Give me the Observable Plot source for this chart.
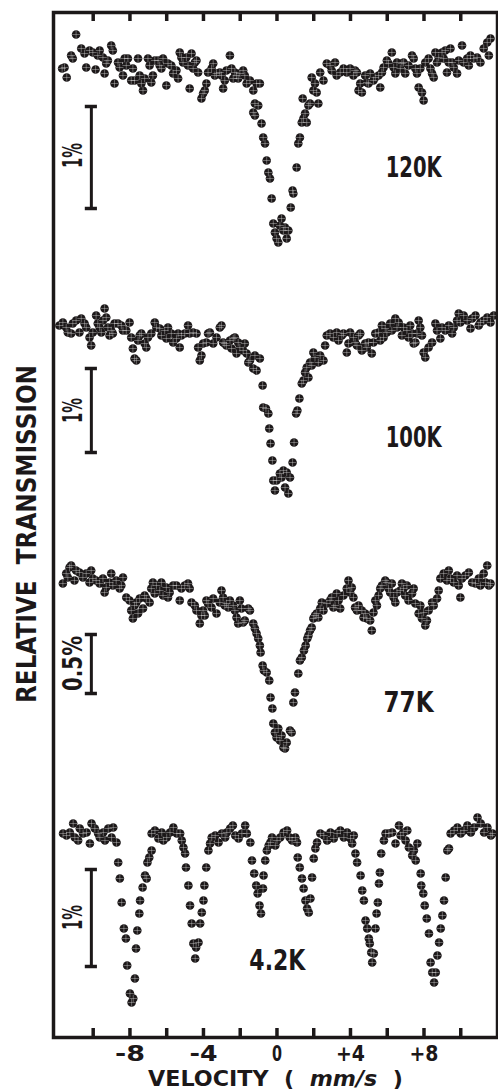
<!DOCTYPE html>
<html><head><meta charset="utf-8">
<script src="https://cdn.jsdelivr.net/npm/d3@7"></script>
<script src="https://cdn.jsdelivr.net/npm/@observablehq/plot@0.6"></script>
<style>
html,body{margin:0;padding:0;background:#fff;}
#chart svg{display:block;}
</style></head><body><div id="chart"></div>
<script>
// ---- DATA: Mossbauer spectra, [velocity (mm/s), absorption depth below band top (chart units)] ----
const temperatures = ["120K", "100K", "77K", "4.2K"];

const spectrum120K = [
[-11.69,0.43],[-11.56,0.42],[-11.44,0.52],[-11.2,0.30],[-11.11,0.33],[-10.93,0.09],[-10.65,0.23],[-10.47,0.28],[-10.38,0.42],[-10.2,0.25],
[-10.02,0.27],[-9.87,0.44],[-9.75,0.30],[-9.65,0.25],[-9.47,0.32],[-9.38,0.48],[-9.29,0.38],[-9.2,0.35],[-9.02,0.20],[-8.93,0.25],
[-8.84,0.58],[-8.65,0.37],[-8.56,0.42],[-8.38,0.50],[-8.29,0.33],[-8.2,0.40],[-8.11,0.33],[-7.93,0.55],[-7.84,0.43],[-7.75,0.55],
[-7.56,0.33],[-7.47,0.50],[-7.38,0.58],[-7.29,0.65],[-7.2,0.53],[-7.02,0.33],[-6.93,0.40],[-6.84,0.57],[-6.75,0.50],[-6.65,0.35],
[-6.47,0.35],[-6.38,0.40],[-6.29,0.43],[-6.2,0.33],[-6.02,0.60],[-5.93,0.38],[-5.75,0.40],[-5.65,0.48],[-5.47,0.45],[-5.38,0.53],
[-5.29,0.27],[-5.2,0.32],[-5.11,0.37],[-4.93,0.32],[-4.84,0.40],[-4.75,0.63],[-4.65,0.28],[-4.56,0.43],[-4.47,0.37],[-4.38,0.35],
[-4.29,0.47],[-4.11,0.73],[-4.02,0.68],[-3.93,0.65],[-3.84,0.58],[-3.75,0.47],[-3.56,0.43],[-3.47,0.38],[-3.38,0.50],[-3.29,0.48],
[-3.11,0.47],[-3.02,0.50],[-2.93,0.63],[-2.84,0.55],[-2.75,0.45],[-2.56,0.30],[-2.47,0.43],[-2.38,0.53],[-2.29,0.47],[-2.2,0.50],
[-2.11,0.53],[-2.02,0.48],[-1.84,0.45],[-1.75,0.50],[-1.65,0.58],[-1.47,0.55],[-1.29,0.65],[-1.11,0.58],[-0.93,0.58],
[-1.2,0.78],[-1.02,0.80],[-1.29,0.87],[-1.2,0.90],[-0.84,0.98],[-0.75,1.12],[-0.65,1.18],[-0.56,1.35],[-0.47,1.47],[-0.38,1.53],
[-0.29,1.73],[-0.2,1.98],[-0.11,2.07],[-0.02,2.13],[0.07,2.17],[0.16,2.0],[0.25,1.93],[0.35,2.05],[0.44,2.02],[0.53,2.13],
[0.62,2.05],[0.75,1.82],[0.85,1.65],[0.89,1.68],[1.07,1.42],[1.16,1.18],[1.25,1.12],[1.35,0.97],[1.44,0.93],[1.53,0.88],
[1.62,0.97],[1.40,0.73],[1.71,0.80],[1.8,0.78],[1.89,0.52],[1.98,0.65],[2.16,0.67],[2.25,0.78],[2.07,0.58],
[2.35,0.47],[2.53,0.55],[2.71,0.38],[2.89,0.40],[2.98,0.45],[3.16,0.37],[3.25,0.50],[3.44,0.47],[3.62,0.43],[3.8,0.47],
[3.98,0.43],[4.16,0.50],[4.25,0.45],[4.35,0.47],[4.44,0.65],[4.53,0.58],[4.62,0.67],[4.8,0.50],[4.89,0.57],[4.98,0.58],
[5.07,0.48],[5.25,0.55],[5.35,0.52],[5.53,0.50],[5.62,0.62],[5.71,0.47],[5.8,0.42],[5.98,0.35],[6.07,0.38],[6.25,0.27],
[6.35,0.42],[6.44,0.48],[6.53,0.37],[6.71,0.43],[6.8,0.38],[6.89,0.37],[6.98,0.48],[7.16,0.40],[7.35,0.30],[7.44,0.33],
[7.53,0.43],[7.62,0.48],[7.71,0.62],[7.8,0.43],[7.89,0.67],[7.98,0.75],[8.07,0.37],[8.25,0.33],[8.35,0.43],[8.44,0.48],
[8.53,0.52],[8.62,0.27],[8.71,0.37],[8.8,0.32],[8.98,0.27],[9.07,0.33],[9.16,0.25],[9.25,0.47],[9.35,0.37],[9.44,0.23],
[9.53,0.37],[9.62,0.42],[9.8,0.48],[9.89,0.35],[10.07,0.20],[10.16,0.37],[10.35,0.33],[10.44,0.40],[10.53,0.30],[10.71,0.33],
[10.89,0.32],[11.07,0.37],[11.25,0.23],[11.44,0.17],[11.53,0.30],[11.62,0.13]
];

const spectrum100K = [
[-11.84,0.25],[-11.65,0.22],[-11.47,0.27],[-11.38,0.32],[-11.2,0.33],[-11.11,0.23],[-10.93,0.20],[-10.75,0.32],[-10.65,0.18],[-10.47,0.23],
[-10.38,0.27],[-10.2,0.37],[-10.11,0.45],[-10.02,0.32],[-9.84,0.15],[-9.75,0.23],[-9.65,0.27],[-9.56,0.32],[-9.47,0.20],[-9.38,0.08],
[-9.29,0.17],[-9.2,0.27],[-9.11,0.35],[-9.02,0.30],[-8.93,0.33],[-8.84,0.23],[-8.65,0.23],[-8.47,0.25],[-8.38,0.30],[-8.2,0.30],
[-8.02,0.22],[-7.93,0.37],[-7.84,0.48],[-7.75,0.58],[-7.65,0.60],[-7.56,0.40],[-7.47,0.35],[-7.38,0.33],[-7.2,0.43],[-7.11,0.47],
[-7.02,0.37],[-6.84,0.33],[-6.65,0.22],[-6.56,0.27],[-6.38,0.28],[-6.29,0.35],[-6.11,0.30],[-6.02,0.38],[-5.93,0.27],[-5.75,0.33],
[-5.65,0.42],[-5.47,0.38],[-5.38,0.33],[-5.29,0.47],[-5.2,0.35],[-5.02,0.33],[-4.84,0.25],[-4.75,0.33],[-4.56,0.32],[-4.38,0.33],
[-4.29,0.47],[-4.2,0.60],[-4.11,0.55],[-4.02,0.43],[-3.84,0.42],[-3.75,0.33],[-3.65,0.32],[-3.47,0.43],[-3.29,0.37],[-3.11,0.27],
[-3.02,0.25],[-2.93,0.42],[-2.84,0.43],[-2.75,0.45],[-2.56,0.40],[-2.47,0.48],[-2.38,0.38],[-2.29,0.37],[-2.2,0.53],[-2.11,0.42],
[-2.02,0.47],[-1.84,0.50],[-1.75,0.43],[-1.65,0.53],[-1.56,0.62],[-1.47,0.60],[-1.29,0.68],[-1.2,0.55],[-1.11,0.70],[-0.93,0.58],
[-0.78,0.85],[-0.75,1.07],[-0.60,1.08],[-0.47,1.13],[-0.42,1.28],[-0.35,1.43],[-0.25,1.60],[-0.2,1.80],[-0.11,1.90],[-0.02,1.80],
[0.16,1.73],[0.25,1.77],[0.35,1.70],[0.44,1.87],[0.53,1.72],[0.62,1.93],[0.71,1.77],[0.85,1.62],[0.93,1.42],[1.04,1.13],
[1.11,1.10],[1.22,0.98],[1.35,0.83],[1.44,0.80],[1.53,0.72],[1.62,0.67],[1.71,0.77],[1.8,0.62],[1.89,0.65],[1.98,0.52],
[2.07,0.57],[2.25,0.62],[2.35,0.55],[2.53,0.60],
[2.62,0.45],[2.71,0.35],[2.89,0.33],[3.07,0.37],[3.25,0.32],[3.35,0.40],[3.53,0.35],[3.62,0.33],[3.8,0.52],[3.89,0.43],
[3.98,0.32],[4.16,0.37],[4.25,0.42],[4.35,0.45],[4.44,0.35],[4.53,0.33],[4.62,0.50],[4.8,0.43],[4.89,0.47],[4.98,0.42],
[5.16,0.53],[5.25,0.42],[5.35,0.33],[5.53,0.32],[5.62,0.40],[5.71,0.25],[5.8,0.37],[5.89,0.28],[5.98,0.32],[6.16,0.23],
[6.25,0.30],[6.44,0.18],[6.53,0.27],[6.62,0.22],[6.8,0.35],[6.89,0.27],[7.07,0.30],[7.16,0.37],[7.25,0.25],[7.35,0.33],
[7.44,0.43],[7.53,0.42],[7.62,0.33],[7.71,0.20],[7.8,0.27],[7.89,0.35],[7.98,0.52],[8.07,0.57],[8.25,0.47],[8.44,0.42],
[8.62,0.23],[8.71,0.30],[8.89,0.38],[8.98,0.27],[9.16,0.30],[9.35,0.25],[9.53,0.33],[9.62,0.27],[9.8,0.20],[9.89,0.13],
[9.98,0.22],[10.16,0.15],[10.35,0.20],[10.53,0.28],[10.62,0.18],[10.8,0.15],[10.98,0.25],[11.07,0.22],[11.25,0.20],[11.44,0.17],
[11.62,0.22],[11.8,0.15]
];

const spectrum77K = [
[-11.65,0.28],[-11.47,0.18],[-11.38,0.22],[-11.29,0.12],[-11.2,0.10],[-11.02,0.25],[-10.93,0.15],[-10.75,0.17],[-10.56,0.22],[-10.38,0.18],
[-10.2,0.27],[-10.11,0.15],[-10.02,0.23],[-9.84,0.25],[-9.65,0.28],[-9.47,0.23],[-9.38,0.37],[-9.29,0.32],[-9.11,0.27],[-9.02,0.18],
[-8.93,0.30],[-8.75,0.25],[-8.56,0.33],[-8.47,0.30],[-8.38,0.22],[-8.2,0.42],[-8.02,0.45],[-7.93,0.55],[-7.84,0.63],[-7.75,0.50],
[-7.65,0.47],[-7.56,0.58],[-7.47,0.43],[-7.29,0.53],[-7.2,0.40],[-7.11,0.43],[-6.93,0.47],[-6.84,0.33],[-6.75,0.27],[-6.65,0.38],
[-6.56,0.30],[-6.38,0.35],[-6.29,0.27],[-6.2,0.40],[-6.02,0.32],[-5.93,0.42],[-5.84,0.37],[-5.65,0.30],[-5.47,0.30],[-5.29,0.45],
[-5.2,0.33],[-5.02,0.30],[-4.84,0.28],[-4.75,0.33],[-4.65,0.47],[-4.47,0.50],[-4.38,0.55],[-4.2,0.68],[-4.11,0.60],[-4.02,0.55],
[-3.93,0.60],[-3.84,0.45],[-3.75,0.48],[-3.56,0.52],[-3.47,0.43],[-3.29,0.58],[-3.11,0.47],[-3.02,0.35],[-2.93,0.42],[-2.84,0.50],
[-2.75,0.48],[-2.65,0.52],[-2.56,0.45],[-2.38,0.50],[-2.29,0.55],[-2.2,0.62],[-2.11,0.68],[-2.02,0.45],[-1.93,0.53],[-1.84,0.67],
[-1.75,0.65],[-1.56,0.53],[-1.47,0.55],[-1.29,0.68],[-1.2,0.73],[-1.11,0.78],[-1.02,0.83],[-0.93,0.90],[-0.89,0.97],[-0.78,1.10],
[-0.71,1.15],[-0.56,1.17],[-0.42,1.25],[-0.35,1.42],[-0.25,1.53],[-0.2,1.68],[-0.11,1.77],[-0.02,1.82],[0.07,1.73],[0.16,1.85],
[0.25,1.80],[0.35,1.92],[0.44,1.93],[0.53,1.87],[0.71,1.75],[0.8,1.77],[0.89,1.47],[0.98,1.37],[1.16,1.18],[1.25,1.05],
[1.35,1.02],[1.47,0.95],[1.56,0.90],[1.65,0.83],[1.71,0.80],[1.8,0.75],[1.89,0.72],[1.98,0.63],[2.07,0.60],[2.16,0.58],
[2.25,0.62],[2.35,0.53],[2.44,0.47],[2.53,0.55],[2.71,0.48],[2.89,0.45],[2.98,0.42],[3.07,0.52],[3.16,0.50],[3.25,0.38],
[3.35,0.45],[3.44,0.53],[3.62,0.40],[3.8,0.33],[3.89,0.25],[3.98,0.37],[4.07,0.32],[4.16,0.42],[4.25,0.52],[4.35,0.55],
[4.44,0.50],[4.62,0.55],[4.71,0.62],[4.8,0.58],[4.89,0.63],[5.07,0.65],[5.16,0.75],[5.25,0.57],[5.35,0.45],[5.44,0.50],
[5.53,0.40],[5.62,0.33],[5.71,0.30],[5.89,0.25],[5.98,0.27],[6.07,0.33],[6.16,0.37],[6.25,0.28],[6.35,0.42],[6.44,0.47],
[6.53,0.37],[6.71,0.35],[6.8,0.28],[6.89,0.33],[6.98,0.40],[7.07,0.30],[7.16,0.45],[7.35,0.38],[7.44,0.33],[7.53,0.48],
[7.71,0.58],[7.8,0.50],[7.89,0.63],[7.98,0.57],[8.07,0.70],[8.16,0.65],[8.25,0.55],[8.44,0.47],[8.53,0.50],[8.71,0.43],
[8.8,0.35],[8.89,0.23],[9.07,0.18],[9.25,0.25],[9.35,0.15],[9.44,0.23],[9.62,0.27],[9.8,0.20],[9.89,0.30],[9.98,0.42],
[10.07,0.23],[10.25,0.20],[10.44,0.17],[10.62,0.27],[10.8,0.28],[10.98,0.23],[11.07,0.30],[11.25,0.18],[11.35,0.27],[11.44,0.10],
[11.53,0.30],[11.62,0.28]
];

const spectrum4K = [
[-11.64,0.33],[-11.45,0.35],[-11.27,0.32],[-11.09,0.23],[-11.0,0.37],[-10.82,0.40],[-10.73,0.28],[-10.55,0.33],[-10.36,0.32],[-10.18,0.43],
[-10.09,0.23],[-9.91,0.28],[-9.73,0.33],[-9.64,0.37],[-9.45,0.32],[-9.36,0.40],[-9.18,0.28],[-9.0,0.37],[-8.91,0.27],[-8.73,0.42],
[-8.64,0.62],[-8.55,0.78],[-8.45,1.02],[-8.33,1.28],[-8.22,1.38],[-8.15,1.65],[-8.0,1.93],[-7.91,2.02],[-7.82,1.98],[-7.73,1.78],
[-7.67,1.48],[-7.6,1.30],[-7.49,1.13],[-7.45,1.0],[-7.31,0.87],[-7.18,0.75],[-7.09,0.78],[-7.05,0.62],[-6.95,0.57],[-6.82,0.50],
[-6.82,0.33],[-6.64,0.30],[-6.45,0.38],[-6.27,0.32],[-6.18,0.40],[-6.0,0.37],[-5.82,0.32],[-5.64,0.27],[-5.45,0.33],[-5.27,0.33],
[-5.18,0.40],[-5.09,0.47],
[-5.0,0.53],[-4.95,0.67],[-4.82,0.85],[-4.73,1.05],[-4.64,1.23],[-4.55,1.43],[-4.45,1.58],[-4.4,1.47],[-4.27,1.42],[-4.18,1.23],
[-4.09,1.12],[-4.0,1.0],[-3.95,0.85],[-3.85,0.67],[-3.73,0.50],[-3.64,0.43],
[-3.55,0.37],[-3.36,0.35],[-3.18,0.42],[-3.0,0.33],[-2.82,0.37],[-2.73,0.32],[-2.55,0.28],[-2.4,0.25],[-2.27,0.35],[-2.09,0.38],
[-1.91,0.33],[-1.73,0.25],[-1.64,0.33],[-1.45,0.42],
[-1.36,0.60],[-1.24,0.73],[-1.13,0.85],[-1.05,0.93],[-0.95,1.05],[-0.87,1.13],[-0.76,0.88],[-0.73,0.75],[-0.64,0.60],[-0.55,0.50],
[-0.45,0.45],[-0.36,0.42],[-0.27,0.37],
[-0.09,0.45],[0.0,0.40],[0.18,0.37],[0.36,0.32],[0.55,0.30],[0.69,0.37],[0.82,0.40],[1.0,0.37],[1.09,0.42],
[1.13,0.57],[1.24,0.67],[1.36,0.78],[1.45,0.88],[1.55,1.0],[1.64,1.08],[1.73,1.12],[1.82,0.98],[1.91,0.77],[2.0,0.58],
[2.09,0.48],[2.18,0.42],
[2.36,0.33],[2.55,0.35],[2.73,0.40],[2.91,0.32],[3.09,0.38],[3.27,0.33],[3.45,0.30],[3.64,0.37],[3.82,0.32],[4.0,0.38],
[4.09,0.43],[4.18,0.35],
[4.27,0.53],[4.36,0.62],[4.55,0.75],[4.64,0.90],[4.73,1.0],[4.82,1.20],[4.91,1.28],[5.0,1.38],[5.05,1.43],[5.13,1.52],
[5.18,1.62],[5.27,1.53],[5.36,1.28],[5.42,1.13],[5.49,1.02],[5.55,0.83],[5.6,0.72],[5.67,0.53],
[5.82,0.40],[5.91,0.33],[6.09,0.33],[6.27,0.32],[6.45,0.43],[6.64,0.25],[6.73,0.35],[6.87,0.32],[7.0,0.40],[7.09,0.30],
[7.18,0.47],[7.36,0.55],[7.45,0.50],[7.55,0.60],[7.64,0.43],
[7.82,0.73],[7.85,0.85],[7.96,0.93],[8.04,1.05],[8.15,1.18],[8.27,1.33],[8.36,1.62],[8.45,1.72],[8.55,1.82],[8.64,1.72],
[8.73,1.55],[8.82,1.42],[8.91,1.28],[9.0,1.15],[9.09,1.0],[9.18,0.77],[9.27,0.50],[9.36,0.48],
[9.45,0.33],[9.64,0.30],[9.82,0.27],[10.0,0.33],[10.18,0.30],[10.36,0.25],[10.55,0.32],[10.73,0.27],[10.91,0.17],[11.09,0.23],
[11.27,0.32],[11.45,0.27],[11.64,0.35],[11.73,0.33]
];

const scaleBarPercent = [1, 1, 0.5, 1];
const scaleBarLabels = ["1%", "1%", "0.5%", "1%"];
const velocityTicks = [-10, -8, -6, -4, -2, 0, 2, 4, 6, 8, 10];
const velocityLabelTicks = [-8, -4, 0, 4, 8];
const velocityTickLabels = ["-8", "-4", "0", "+4", "+8"];
const xAxisTitle = "VELOCITY ( mm/s )";
const yAxisTitle = "RELATIVE TRANSMISSION";

// ---- LAYOUT (chart units) ----
const layout = {
  bandTop: [10.12, 7.37, 4.82, 2.37],
  unitsPerPercent: [1.02, 0.84, 1.18, 0.97],
  barTop: [9.31, 6.69, 4.03, 1.68],
  barX: -10.1,
  barLabelX: -11.05,
  barLabelY: [8.82, 6.27, 3.74, 1.20],
  tempLabel: [[7.44, 8.69], [7.44, 5.99], [7.16, 3.34], [0.02, 0.76]]
};
// target rendered widths (px) to imitate the condensed lettering of the original
const textWidths = {"120K": 56, "100K": 56, "77K": 50, "4.2K": 56, "-8": 30, "-4": 28, "0": 10, "+4": 29, "+8": 29,
  "1%": 25, "0.5%": 55, [xAxisTitle]: 255, [yAxisTitle]: 338};

const spectra = [spectrum120K, spectrum100K, spectrum77K, spectrum4K];
const points = spectra.flatMap((s, k) => s.map(([v, d]) => ({v, y: layout.bandTop[k] - d, t: temperatures[k]})));
const bars = temperatures.map((t, k) => ({
  t, x: layout.barX, y1: layout.barTop[k],
  y2: layout.barTop[k] - scaleBarPercent[k] * layout.unitsPerPercent[k],
  label: scaleBarLabels[k], lx: layout.barLabelX, ly: layout.barLabelY[k]
}));
const tempLabels = temperatures.map((t, k) => ({t, x: layout.tempLabel[k][0], y: layout.tempLabel[k][1]}));
const ink = "#1c1819";
const font = "'DejaVu Sans', sans-serif";
const serif = 0.33;

const chart = Plot.plot({
  width: 498, height: 1092,
  marginLeft: 53, marginRight: 1, marginTop: 12, marginBottom: 55,
  x: {domain: [-12.16, 12.0], axis: null},
  y: {domain: [0, 10.25], axis: null},
  style: {fontFamily: font, color: ink, background: "#fff"},
  marks: [
    Plot.ruleX(velocityTicks, {x: d => d, y1: 0, y2: 0.09, stroke: ink, strokeWidth: 3.5}),
    Plot.ruleX(velocityTicks, {x: d => d, y1: 10.16, y2: 10.25, stroke: ink, strokeWidth: 3.5}),
    Plot.text(velocityLabelTicks, {x: d => d, y: 0, text: (d, i) => velocityTickLabels[i], dy: 17, fontSize: 21, fontWeight: "bold", fill: ink, lineAnchor: "middle"}),
    Plot.text([xAxisTitle], {frameAnchor: "bottom", dy: 42, fontSize: 21, fontWeight: "bold", fill: ink, textAnchor: "middle", lineAnchor: "middle"}),
    Plot.text([yAxisTitle], {frameAnchor: "left", dx: -26, dy: 9, rotate: -90, fontSize: 27, fontWeight: "bold", fill: ink, textAnchor: "middle", lineAnchor: "middle"}),
    Plot.ruleX(bars, {x: "x", y1: "y1", y2: "y2", stroke: ink, strokeWidth: 3}),
    Plot.ruleY(bars, {y: "y1", x1: d => d.x - serif, x2: d => d.x + serif, stroke: ink, strokeWidth: 3.5}),
    Plot.ruleY(bars, {y: "y2", x1: d => d.x - serif, x2: d => d.x + serif, stroke: ink, strokeWidth: 3.5}),
    Plot.text(bars, {x: "lx", y: "ly", text: "label", rotate: -90, fontSize: 26, fontWeight: "bold", fill: ink, textAnchor: "middle", lineAnchor: "middle"}),
    Plot.text(tempLabels, {x: "x", y: "y", text: "t", fontSize: 28, fontWeight: "bold", fill: ink, textAnchor: "middle", lineAnchor: "middle"}),
    Plot.dot(points, {x: "v", y: "y", r: 4.3, fill: ink}),
    Plot.dot(points, {x: "v", y: "y", r: 2.6, symbol: "plus", stroke: "#fff", strokeWidth: 0.6, strokeOpacity: 0.55}),
    Plot.frame({stroke: ink, strokeWidth: 3.5})
  ]
});
document.getElementById("chart").appendChild(chart);

// condensed lettering via textLength; italic unit in the x title
d3.select(chart).selectAll("text").each(function() {
  const el = d3.select(this);
  const txt = this.textContent;
  if (txt === xAxisTitle) {
    el.text(null);
    el.append("tspan").text("VELOCITY\u00a0\u00a0(\u00a0\u00a0");
    el.append("tspan").attr("font-style", "italic").text("mm/s");
    el.append("tspan").text("\u00a0\u00a0)");
  } else if (txt === yAxisTitle) {
    el.text("RELATIVE\u00a0\u00a0TRANSMISSION");
  }
  if (textWidths[txt] !== undefined) {
    el.attr("textLength", textWidths[txt]).attr("lengthAdjust", "spacingAndGlyphs");
  }
});
</script></body></html>
